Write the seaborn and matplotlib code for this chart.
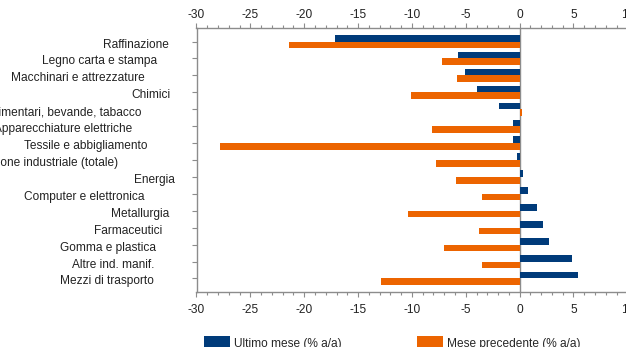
import matplotlib
matplotlib.use("Agg")
import matplotlib.pyplot as plt
import matplotlib.transforms as mtransforms
from matplotlib.ticker import MultipleLocator
import seaborn as sns
import pandas as pd

categories = [
    "Raffinazione", "Legno carta e stampa", "Macchinari e attrezzature", "Chimici",
    "Alimentari, bevande, tabacco", "Apparecchiature elettriche", "Tessile e abbigliamento",
    "Produzione industriale (totale)", "Energia", "Computer e elettronica", "Metallurgia",
    "Farmaceutici", "Gomma e plastica", "Altre ind. manif.", "Mezzi di trasporto",
]
ultimo_mese = [-17.1, -5.7, -5.1, -4.0, -1.9, -0.65, -0.65, -0.2, 0.28, 0.75, 1.65, 2.2, 2.75, 4.9, 5.45]
mese_precedente = [-21.4, -7.2, -5.8, -10.1, 0.2, -8.1, -27.8, -7.8, -5.9, -3.45, -10.4, -3.8, -7.0, -3.45, -12.9]
series_names = ["Ultimo mese (% a/a)", "Mese precedente (% a/a)"]
xticks = [-30, -25, -20, -15, -10, -5, 0, 5, 10]

# layout: right edge (pixels) of each category label, mimicking the original placement
label_right_px = [169, 157, 145, 171, 142, 132, 148, 118, 175, 144, 169, 162, 156, 154, 154]

df = pd.DataFrame({
    "cat": categories * 2,
    "serie": [series_names[0]] * len(categories) + [series_names[1]] * len(categories),
    "val": ultimo_mese + mese_precedente,
})

sns.set_style("ticks")
plt.rcParams["font.family"] = ["Liberation Sans", "DejaVu Sans"]
plt.rcParams["font.size"] = 8.6
plt.rcParams["axes.unicode_minus"] = False

FS = 8.6
W, H, DPI = 626, 347, 100
fig = plt.figure(figsize=(W / DPI, H / DPI), dpi=DPI)
ax_left, ax_right, ax_top, ax_bot = 196.5, 627.3, 28.0, 292.0
ax = fig.add_axes([ax_left / W, 1 - ax_bot / H, (ax_right - ax_left) / W, (ax_bot - ax_top) / H])

blue = "#003B7A"
orange = "#EC6400"
sns.barplot(data=df, y="cat", x="val", hue="serie", orient="h", palette=[blue, orange],
            width=0.78, linewidth=0, saturation=1, ax=ax, legend=True)

ax.set_xlim(-30, 10)
ax.set_ylim(len(categories) - 1 + 0.8, -0.8)
ax.axvline(0, color="#8c8c8c", lw=1, zorder=0.5)

grey = "#8c8c8c"
for s in ["left", "bottom"]:
    ax.spines[s].set_color(grey)
    ax.spines[s].set_linewidth(1)
ax.spines["top"].set_visible(False)
ax.spines["right"].set_visible(False)

ax.set_xticks(xticks)
ax.xaxis.set_minor_locator(MultipleLocator(1))
ax.tick_params(axis="x", which="major", direction="out", length=3.5, width=0.8, color=grey,
               labelsize=FS, pad=5, labelcolor="#222222")
ax.tick_params(axis="x", which="minor", direction="out", length=2.2, width=0.8, color=grey)
ax.tick_params(axis="y", which="major", direction="out", length=3.8, width=0.8, color=grey,
               labelleft=False)
ax.set_xlabel("")
ax.set_ylabel("")

sec = ax.secondary_xaxis("top")
sec.set_xticks(xticks)
sec.xaxis.set_minor_locator(MultipleLocator(1))
sec.tick_params(axis="x", which="major", direction="out", length=3.5, width=0.8, color=grey,
                labelsize=FS, pad=1.5, labelcolor="#222222")
sec.tick_params(axis="x", which="minor", direction="out", length=2.2, width=0.8, color=grey)
sec.spines["top"].set_color(grey)
sec.spines["top"].set_linewidth(1)

# category labels
trans = mtransforms.blended_transform_factory(ax.transAxes, ax.transData)
trans = trans + mtransforms.ScaledTranslation(0, -3 / DPI, fig.dpi_scale_trans)
for i, (name, rpx) in enumerate(zip(categories, label_right_px)):
    ax.text((rpx - ax_left) / (ax_right - ax_left), i, name, transform=trans,
            ha="right", va="center", fontsize=FS, color="#222222", clip_on=False)

handles, labels = ax.get_legend_handles_labels()
ax.get_legend().remove()
fig.legend(handles, labels, loc="upper left", bbox_to_anchor=(204 / W, 1 - 336 / H),
           ncol=2, frameon=False, borderpad=0, borderaxespad=0, handlelength=2.2,
           handleheight=1.4, handletextpad=0.3, columnspacing=6.3, fontsize=FS)

fig.savefig("out.png", dpi=DPI)
